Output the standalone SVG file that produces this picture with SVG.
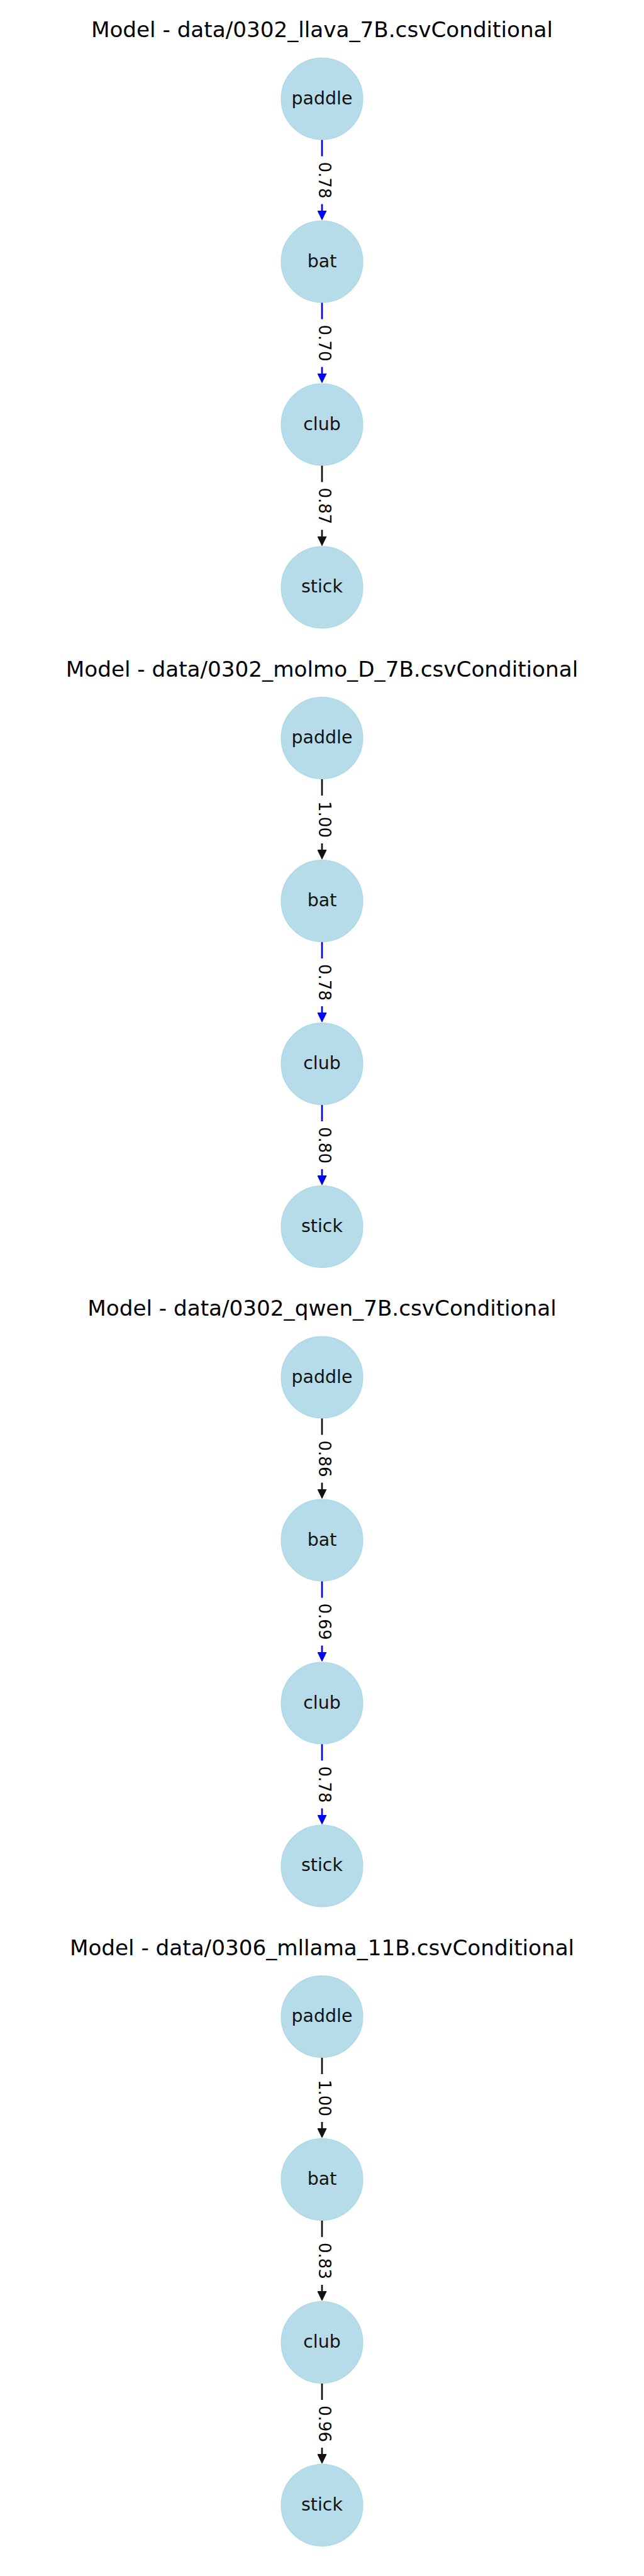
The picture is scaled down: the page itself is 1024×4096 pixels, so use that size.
<svg xmlns="http://www.w3.org/2000/svg" width="1024" height="4096" viewBox="0 0 1024 4096">
<style>
.title{font-family:"DejaVu Sans","Liberation Sans",sans-serif;font-size:34.2px;fill:#000;text-anchor:middle}
.node circle{fill:#ADD8E6;fill-opacity:0.9;stroke:#ADD8E6;stroke-width:1.4}
.node text{font-family:"DejaVu Sans","Liberation Sans",sans-serif;font-size:28.4px;fill:#111;text-anchor:middle}
.e{stroke-width:2.7;fill:none}
.k{stroke:#111}
.b{stroke:#0000FF}
.lb rect{fill:#fff;stroke:none}
.lb text{font-family:"DejaVu Sans","Liberation Sans",sans-serif;font-size:26px;fill:#000;text-anchor:middle}
</style>
<defs>
<marker id="ak" markerUnits="userSpaceOnUse" viewBox="0 0 16 15" refX="0.5" refY="7.5" markerWidth="16" markerHeight="15" orient="auto"><path d="M0.5,0.5 L15,7.5 L0.5,14.5 z" fill="#111" stroke="#111" stroke-width="1" stroke-linejoin="round"/></marker>
<marker id="ab" markerUnits="userSpaceOnUse" viewBox="0 0 16 15" refX="0.5" refY="7.5" markerWidth="16" markerHeight="15" orient="auto"><path d="M0.5,0.5 L15,7.5 L0.5,14.5 z" fill="#0000FF" stroke="#0000FF" stroke-width="1" stroke-linejoin="round"/></marker>
</defs>
<rect width="1024" height="4096" fill="#fff"/>

<text class="title" x="512" y="59.4">Model - data/0302_llava_7B.csvConditional</text>
<text class="title" x="512" y="1075.9">Model - data/0302_molmo_D_7B.csvConditional</text>
<text class="title" x="512" y="2092.4">Model - data/0302_qwen_7B.csvConditional</text>
<text class="title" x="512" y="3108.9">Model - data/0306_mllama_11B.csvConditional</text>

<g id="connectors">
<!-- panel 1 -->
<line class="e b" x1="512" y1="221.9" x2="512" y2="335.0" marker-end="url(#ab)"/>
<line class="e b" x1="512" y1="480.9" x2="512" y2="594.0" marker-end="url(#ab)"/>
<line class="e k" x1="512" y1="739.9" x2="512" y2="853.0" marker-end="url(#ak)"/>
<!-- panel 2 -->
<line class="e k" x1="512" y1="1238.4" x2="512" y2="1351.5" marker-end="url(#ak)"/>
<line class="e b" x1="512" y1="1497.4" x2="512" y2="1610.5" marker-end="url(#ab)"/>
<line class="e b" x1="512" y1="1756.4" x2="512" y2="1869.5" marker-end="url(#ab)"/>
<!-- panel 3 -->
<line class="e k" x1="512" y1="2254.9" x2="512" y2="2368.0" marker-end="url(#ak)"/>
<line class="e b" x1="512" y1="2513.9" x2="512" y2="2627.0" marker-end="url(#ab)"/>
<line class="e b" x1="512" y1="2772.9" x2="512" y2="2886.0" marker-end="url(#ab)"/>
<!-- panel 4 -->
<line class="e k" x1="512" y1="3271.4" x2="512" y2="3384.5" marker-end="url(#ak)"/>
<line class="e k" x1="512" y1="3530.4" x2="512" y2="3643.5" marker-end="url(#ak)"/>
<line class="e k" x1="512" y1="3789.4" x2="512" y2="3902.5" marker-end="url(#ak)"/>

<g class="lb">
<rect x="497" y="248.5" width="30" height="76"/><text transform="translate(507.4,286.5) rotate(90)">0.78</text>
<rect x="497" y="507.5" width="30" height="76"/><text transform="translate(507.4,545.5) rotate(90)">0.70</text>
<rect x="497" y="766.5" width="30" height="76"/><text transform="translate(507.4,804.5) rotate(90)">0.87</text>

<rect x="497" y="1265.0" width="30" height="76"/><text transform="translate(507.4,1303.0) rotate(90)">1.00</text>
<rect x="497" y="1524.0" width="30" height="76"/><text transform="translate(507.4,1562.0) rotate(90)">0.78</text>
<rect x="497" y="1783.0" width="30" height="76"/><text transform="translate(507.4,1821.0) rotate(90)">0.80</text>

<rect x="497" y="2281.5" width="30" height="76"/><text transform="translate(507.4,2319.5) rotate(90)">0.86</text>
<rect x="497" y="2540.5" width="30" height="76"/><text transform="translate(507.4,2578.5) rotate(90)">0.69</text>
<rect x="497" y="2799.5" width="30" height="76"/><text transform="translate(507.4,2837.5) rotate(90)">0.78</text>

<rect x="497" y="3298.0" width="30" height="76"/><text transform="translate(507.4,3336.0) rotate(90)">1.00</text>
<rect x="497" y="3557.0" width="30" height="76"/><text transform="translate(507.4,3595.0) rotate(90)">0.83</text>
<rect x="497" y="3816.0" width="30" height="76"/><text transform="translate(507.4,3854.0) rotate(90)">0.96</text>
</g>
</g>

<g id="p1-paddle" class="node"><circle cx="512" cy="157.0" r="64.85"/><text x="512" y="165.5">paddle</text></g>
<g id="p1-bat" class="node"><circle cx="512" cy="416.0" r="64.85"/><text x="512" y="424.5">bat</text></g>
<g id="p1-club" class="node"><circle cx="512" cy="675.0" r="64.85"/><text x="512" y="683.5">club</text></g>
<g id="p1-stick" class="node"><circle cx="512" cy="933.9" r="64.85"/><text x="512" y="942.4">stick</text></g>

<g id="p2-paddle" class="node"><circle cx="512" cy="1173.5" r="64.85"/><text x="512" y="1182.0">paddle</text></g>
<g id="p2-bat" class="node"><circle cx="512" cy="1432.5" r="64.85"/><text x="512" y="1441.0">bat</text></g>
<g id="p2-club" class="node"><circle cx="512" cy="1691.5" r="64.85"/><text x="512" y="1700.0">club</text></g>
<g id="p2-stick" class="node"><circle cx="512" cy="1950.4" r="64.85"/><text x="512" y="1958.9">stick</text></g>

<g id="p3-paddle" class="node"><circle cx="512" cy="2190.0" r="64.85"/><text x="512" y="2198.5">paddle</text></g>
<g id="p3-bat" class="node"><circle cx="512" cy="2449.0" r="64.85"/><text x="512" y="2457.5">bat</text></g>
<g id="p3-club" class="node"><circle cx="512" cy="2708.0" r="64.85"/><text x="512" y="2716.5">club</text></g>
<g id="p3-stick" class="node"><circle cx="512" cy="2966.9" r="64.85"/><text x="512" y="2975.4">stick</text></g>

<g id="p4-paddle" class="node"><circle cx="512" cy="3206.5" r="64.85"/><text x="512" y="3215.0">paddle</text></g>
<g id="p4-bat" class="node"><circle cx="512" cy="3465.5" r="64.85"/><text x="512" y="3474.0">bat</text></g>
<g id="p4-club" class="node"><circle cx="512" cy="3724.5" r="64.85"/><text x="512" y="3733.0">club</text></g>
<g id="p4-stick" class="node"><circle cx="512" cy="3983.4" r="64.85"/><text x="512" y="3991.9">stick</text></g>
</svg>
